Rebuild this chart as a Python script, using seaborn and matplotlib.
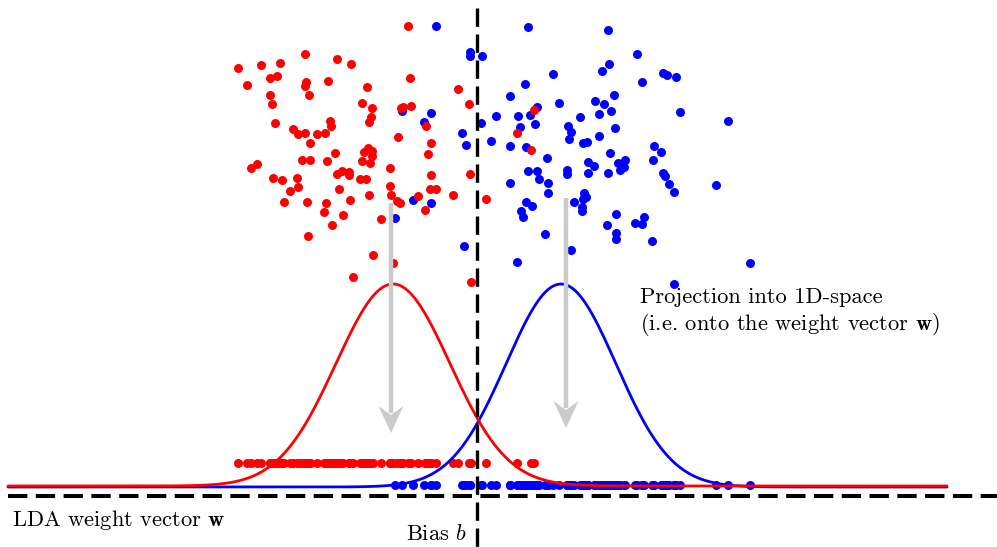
import numpy as np
import pandas as pd
import matplotlib
matplotlib.use("Agg")
import matplotlib.pyplot as plt
from matplotlib.patches import Polygon
import seaborn as sns

# --- class samples in the 2D feature plane (canvas units, y grows downward) ---
red_x = [408, 305, 337, 351, 238, 261, 280, 270, 277, 247, 306, 305, 328, 410, 367,
         458, 270, 309, 272, 362, 372, 401, 403, 411, 469, 371, 369, 275, 426, 330,
         331, 293, 298, 305, 317, 325, 310, 398, 431, 335, 364, 368, 372, 372, 428,
         362, 370, 251, 257, 302, 310, 327, 390, 273, 282, 297, 298, 290, 337, 342,
         349, 349, 360, 366, 431, 470, 339, 390, 430, 436, 369, 391, 418, 453, 486,
         284, 307, 326, 350, 397, 400, 324, 343, 425, 381, 332, 308, 373, 393, 353,
         471, 534, 517, 531]
red_y = [26, 54, 59, 64, 68, 65, 63, 78, 76, 85, 82, 86, 81, 78, 87,
         89, 95, 95, 104, 103, 108, 108, 107, 106, 104, 117, 122, 123, 126, 121,
         126, 129, 134, 133, 134, 133, 143, 137, 143, 153, 152, 148, 151, 156, 154,
         161, 163, 168, 164, 160, 160, 161, 168, 178, 180, 178, 187, 191, 174, 171,
         172, 175, 179, 179, 175, 174, 189, 186, 189, 189, 195, 195, 196, 195, 199,
         202, 202, 203, 200, 201, 203, 212, 215, 210, 219, 225, 236, 255, 263, 277,
         282, 110, 133, 150]

blue_x = [436, 470, 470, 482, 402, 431, 424, 481, 462, 466, 413, 431, 395, 464, 528,
          608, 637, 609, 602, 553, 663, 667, 676, 642, 525, 510, 614, 559, 595, 604,
          537, 496, 518, 530, 599, 611, 580, 680, 728, 535, 520, 568, 571, 569, 615,
          491, 510, 526, 583, 587, 599, 654, 661, 610, 547, 588, 594, 618, 625, 620,
          624, 653, 528, 537, 539, 567, 567, 588, 608, 663, 665, 669, 674, 716, 510,
          548, 548, 584, 586, 583, 574, 526, 532, 521, 523, 582, 582, 616, 644, 635,
          642, 607, 616, 616, 652, 545, 571, 517, 750, 674]
blue_y = [26, 52, 56, 56, 111, 113, 122, 123, 133, 145, 200, 203, 218, 246, 27,
          30, 54, 64, 71, 74, 73, 75, 77, 82, 84, 96, 95, 103, 101, 104,
          107, 116, 116, 115, 114, 111, 117, 112, 121, 124, 127, 126, 132, 139, 128,
          141, 146, 147, 143, 142, 136, 146, 152, 153, 158, 162, 166, 163, 160, 170,
          167, 160, 171, 171, 179, 170, 174, 173, 173, 173, 176, 184, 192, 185, 183,
          183, 193, 193, 197, 199, 202, 202, 206, 211, 217, 207, 211, 214, 217, 223,
          224, 225, 233, 239, 241, 234, 250, 262, 263, 284]

# Gaussian class-conditional densities along the weight vector
red_mean, red_std, red_peak = 393, 57, 202
blue_mean, blue_std, blue_peak = 561, 55, 203

RED = "#ff0000"
BLUE = "#0000ff"
GRAY = "#cbcbcb"

RED_ROW, BLUE_ROW = 463, 485          # rows of the projected samples
RED_BASE, BLUE_BASE = 486, 487        # baselines of the density curves
AXIS_Y, BIAS_X = 496, 477             # weight vector and decision threshold
X_START, X_END = 8, 947

sns.set_theme(style="white")
plt.rcParams["mathtext.fontset"] = "cm"
plt.rcParams["font.family"] = ["cmr10", "DejaVu Serif"]
plt.rcParams["axes.unicode_minus"] = False
plt.rcParams["text.color"] = "black"

fig = plt.figure(figsize=(9.97, 5.47), dpi=100)
ax = fig.add_axes([0, 0, 1, 1])
ax.set_xlim(0, 997)
ax.set_ylim(547, 0)
ax.axis("off")

red = pd.DataFrame({"x": red_x, "y": red_y})
blue = pd.DataFrame({"x": blue_x, "y": blue_y})

dot = dict(s=42, linewidth=0, legend=False)

# projections onto the weight vector
sns.scatterplot(x=blue["x"], y=np.full(len(blue), BLUE_ROW), color=BLUE, ax=ax, zorder=2, **dot)
sns.scatterplot(x=red["x"], y=np.full(len(red), RED_ROW), color=RED, ax=ax, zorder=2, **dot)

# raw samples
sns.scatterplot(data=blue, x="x", y="y", color=BLUE, ax=ax, zorder=3, **dot)
sns.scatterplot(data=red, x="x", y="y", color=RED, ax=ax, zorder=3, **dot)

# fitted densities
grid = np.linspace(X_START, X_END, 800)
blue_curve = BLUE_BASE - blue_peak * np.exp(-0.5 * ((grid - blue_mean) / blue_std) ** 2)
red_curve = RED_BASE - red_peak * np.exp(-0.5 * ((grid - red_mean) / red_std) ** 2)
sns.lineplot(x=grid, y=blue_curve, color=BLUE, lw=2.0, sort=False, ax=ax, zorder=4)
sns.lineplot(x=grid, y=red_curve, color=RED, lw=2.0, sort=False, ax=ax, zorder=5)

# projection arrows
def down_arrow(x, y0, y1):
    ax.plot([x, x], [y0, y1 - 20], color=GRAY, lw=3.2, solid_capstyle="butt", zorder=6)
    head = [(x, y1), (x - 12.5, y1 - 27), (x, y1 - 18), (x + 12.5, y1 - 27)]
    ax.add_patch(Polygon(head, closed=True, facecolor=GRAY, edgecolor="none", zorder=6))

down_arrow(391, 203, 433)
down_arrow(566, 198, 428)

# weight vector and bias
dash = dict(color="black", lw=2.9, dashes=(4.8, 2.1), zorder=7)
ax.plot([X_START, 997], [AXIS_Y, AXIS_Y], **dash)
ax.plot([BIAS_X, BIAS_X], [8, 547], **dict(dash, lw=2.4, dashes=(5.5, 2.3)))

fs = 16.2
ax.text(12, 520, r"LDA weight vector $\mathbf{w}$", fontsize=fs, ha="left", va="center", zorder=8)
ax.text(467, 534, r"Bias $b$", fontsize=fs, ha="right", va="center", zorder=8)
ax.text(640, 297, "Projection into 1D-space", fontsize=fs, ha="left", va="center", zorder=8)
ax.text(640, 325, r"(i.e. onto the weight vector $\mathbf{w}$)", fontsize=fs,
        ha="left", va="center", zorder=8)

fig.savefig("out.png", dpi=100)
